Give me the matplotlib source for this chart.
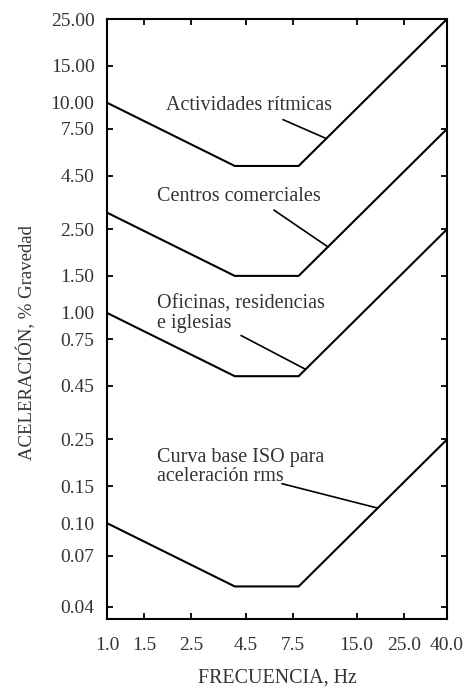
import matplotlib
matplotlib.use("Agg")
import matplotlib.pyplot as plt
from matplotlib.ticker import FixedLocator, NullFormatter

plt.rcParams["font.family"] = ["Liberation Serif", "DejaVu Serif"]

# frequency break points (Hz) shared by every curve
freq = [1.0, 4.0, 8.0, 40.0]

# peak acceleration limits, % gravity
rhythmic = [10.0, 5.0, 5.0, 25.0]
shopping = [3.0, 1.5, 1.5, 7.5]
offices = [1.0, 0.5, 0.5, 2.5]
iso_base = [0.1, 0.05, 0.05, 0.25]

x_ticks = [1.0, 1.5, 2.5, 4.5, 7.5, 15.0, 25.0, 40.0]
x_labels = ["1.0", "1.5", "2.5", "4.5", "7.5", "15.0", "25.0", "40.0"]
y_ticks = [0.04, 0.07, 0.10, 0.15, 0.25, 0.45, 0.75, 1.00, 1.50, 2.50,
           4.50, 7.50, 10.00, 15.00, 25.00]
y_labels = [f"{v:.2f}" for v in y_ticks]
# values that carry a tick mark on the frame
y_marks = [0.04, 0.07, 0.15, 0.25, 0.45, 0.75, 1.50, 2.50, 4.50, 7.50, 15.00]
x_marks = [1.5, 2.5, 4.5, 7.5, 15.0, 25.0]

# curve labels: text, anchor, leader start, leader end (data coords)
notes = [
    ("Actividades rítmicas", (1.90, 9.7), (6.76, 8.3), (10.8, 6.75)),
    ("Centros comerciales", (1.72, 3.58), (6.13, 3.08), (11.0, 2.06)),
    ("Oficinas, residencias\ne iglesias", (1.72, 0.99), (4.29, 0.78), (8.6, 0.54)),
    ("Curva base ISO para\naceleración rms", (1.72, 0.185), (6.69, 0.154), (18.8, 0.118)),
]

TXT = "#333333"

fig = plt.figure(figsize=(4.74, 6.89), dpi=100)
ax = fig.add_axes([0.2257, 0.1016, 0.7173, 0.8708])

for ys in (rhythmic, shopping, offices, iso_base):
    ax.plot(freq, ys, color="black", linewidth=1.5, solid_joinstyle="miter")

for text, pos, start, end in notes:
    ax.text(pos[0], pos[1], text, ha="left", va="center", fontsize=14.5,
            color=TXT, linespacing=1.05)
    ax.plot([start[0], end[0]], [start[1], end[1]], color="black", linewidth=1.2)

ax.set_xscale("log")
ax.set_yscale("log")
ax.set_xlim(1.0, 40.0)
ax.set_ylim(0.035, 25.0)

ax.xaxis.remove_overlapping_locs = False
ax.yaxis.remove_overlapping_locs = False
ax.xaxis.set_major_locator(FixedLocator(x_ticks))
ax.xaxis.set_major_formatter(plt.FixedFormatter(x_labels))
ax.xaxis.set_minor_locator(FixedLocator(x_marks))
ax.xaxis.set_minor_formatter(NullFormatter())
ax.yaxis.set_major_locator(FixedLocator(y_ticks))
ax.yaxis.set_major_formatter(plt.FixedFormatter(y_labels))
ax.yaxis.set_minor_locator(FixedLocator(y_marks))
ax.yaxis.set_minor_formatter(NullFormatter())

ax.tick_params(which="major", length=0, labelsize=14, labelcolor=TXT)
ax.tick_params(axis="y", which="major", pad=9)
ax.tick_params(axis="x", which="major", pad=13)
ax.tick_params(which="minor", direction="in", length=4, width=1.3,
               top=True, right=True)

for s in ax.spines.values():
    s.set_linewidth(1.5)

ax.set_xlabel("FRECUENCIA, Hz", fontsize=14.4, color=TXT)
ax.set_ylabel("ACELERACIÓN, % Gravedad", fontsize=13.5, color=TXT)
ax.xaxis.set_label_coords(0.5, -0.082)
ax.yaxis.set_label_coords(-0.209, 0.46)

fig.savefig("out.png", dpi=100)
